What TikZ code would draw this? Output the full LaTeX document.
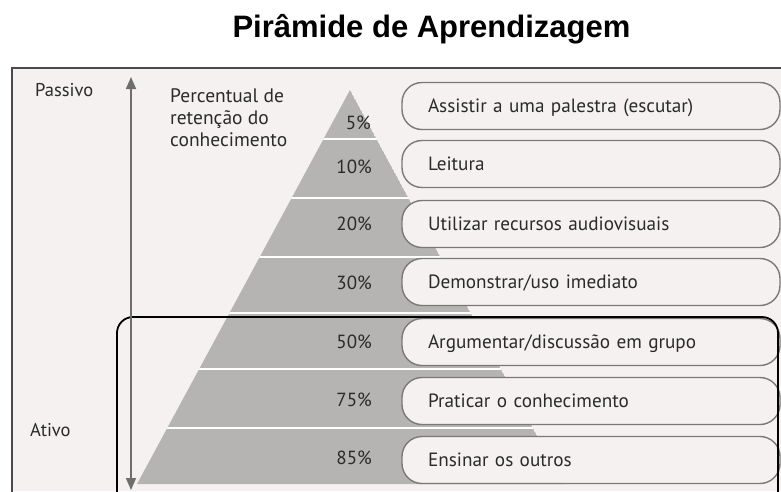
\documentclass[tikz,border=0pt]{standalone}
\usepackage{fontspec}
\setmainfont{PT Sans}
\newfontfamily\titlefont{Liberation Sans}
\usetikzlibrary{arrows.meta}
\definecolor{pagebg}{HTML}{F5F1F1}
\definecolor{pyr}{HTML}{B6B3B3}
\definecolor{boxline}{HTML}{7A7878}
\definecolor{framec}{HTML}{4A4A4A}
\definecolor{arrowc}{HTML}{6E6E6E}
\definecolor{txt}{HTML}{2A2A2A}
\tikzset{
  stagebox/.style={draw=boxline, line width=1.4pt, fill=pagebg, rounded corners=20pt,
    minimum height=47pt, text width=326pt, inner xsep=26pt, inner ysep=0pt, align=left,
    font=\fontsize{19.2}{21}\selectfont, text=txt, text height=13.5pt, text depth=0pt},
  pct/.style={anchor=east, font=\fontsize{19}{21}\selectfont, text=txt, inner sep=0pt, text height=13.5pt, text depth=0pt},
  sidelabel/.style={anchor=west, font=\fontsize{18.5}{20}\selectfont, text=txt, inner sep=0pt},
  sep/.style={draw=white, line width=2pt}
}
\begin{document}
\begin{tikzpicture}[x=1pt,y=-1pt]
\useasboundingbox (0,0) rectangle (781,491);
\clip (0,0) rectangle (781,491);
\fill[white] (0,0) rectangle (781,491);
\fill[pagebg] (12,68) rectangle (781,491);
% frame
\draw[framec, line width=2pt] (12,500) -- (12,68) -- (790,68);
% title
\node[font=\titlefont\bfseries\fontsize{31}{34}\selectfont, anchor=base, inner sep=0pt] (title) at (431.5,37) {Pirâmide de Aprendizagem};
% pyramid
\begin{scope}
\path[clip] (350,90) -- (563,484) -- (137,484) -- cycle;
\fill[pyr] (350,90) -- (563,484) -- (137,484) -- cycle;
\foreach \yy in {139,198,257,313,369,428}{
  \draw[sep] (120,\yy) -- (600,\yy);
}
\end{scope}
% percentages
\node[pct] (p1) at (371,123) {5\%};
\node[pct] (p2) at (372,167) {10\%};
\node[pct] (p3) at (372,224) {20\%};
\node[pct] (p4) at (372,283) {30\%};
\node[pct] (p5) at (372,342) {50\%};
\node[pct] (p6) at (372,400) {75\%};
\node[pct] (p7) at (372,458) {85\%};
% boxes
\node[stagebox] (b1) at (591,106) {Assistir a uma palestra (escutar)};
\node[stagebox] (b2) at (591,164) {Leitura};
\node[stagebox] (b3) at (591,224) {Utilizar recursos audiovisuais};
\node[stagebox] (b4) at (591,282) {Demonstrar/uso imediato};
\node[stagebox] (b5) at (591,342) {Argumentar/discussão em grupo};
\node[stagebox] (b6) at (591,401) {Praticar o conhecimento};
\node[stagebox] (b7) at (591,460) {Ensinar os outros};
% active group outline
\draw[black, line width=1.8pt, rounded corners=16pt] (117,317) rectangle (778,520);
% arrow
\coordinate (atop) at (131,77);
\coordinate (abot) at (131,490);
\draw[arrowc, line width=1.6pt, {Triangle[length=12pt,width=10pt]}-{Triangle[length=12pt,width=10pt]}] (atop) -- (abot);
% side labels
\node[sidelabel] (passivo) at (35,90) {Passivo};
\node[sidelabel] (ativo) at (30,430) {Ativo};
\node[anchor=north west, align=left, font=\fontsize{19.5}{22}\selectfont, text=txt, inner sep=0pt] (perc) at (170,88) {Percentual de\\retenção do\\conhecimento};
\end{tikzpicture}
\end{document}
